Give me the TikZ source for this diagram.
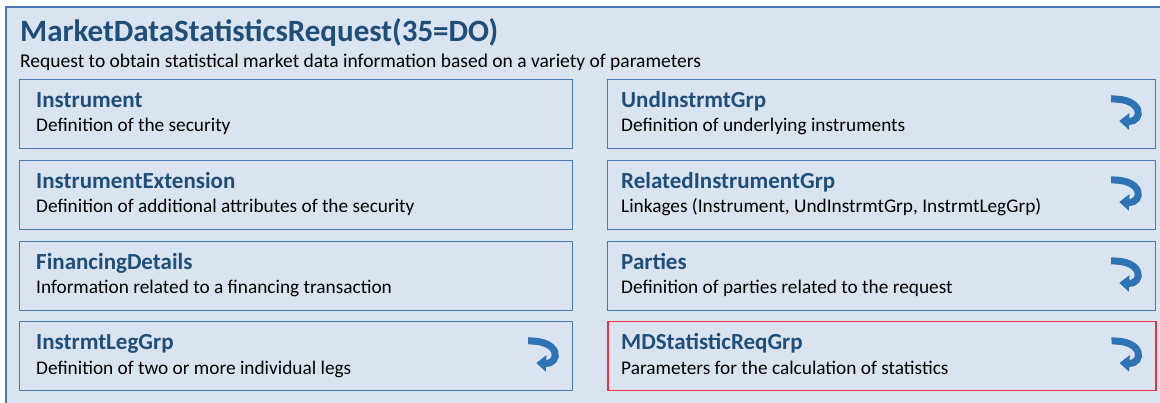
\documentclass[tikz,border=0pt]{standalone}
\usepackage{fontspec}
\setmainfont{Carlito}
\usetikzlibrary{arrows.meta,calc}
\definecolor{bgblue}{HTML}{DAE3F0}
\definecolor{frameblue}{HTML}{4A7AB3}
\definecolor{titleblue}{HTML}{1F4E79}
\definecolor{redframe}{HTML}{F0303C}
\definecolor{arrowblue}{HTML}{2E74B5}
\tikzset{
  grpbox/.style={draw=frameblue, line width=1.2pt, minimum width=553pt, minimum height=69pt, anchor=north west, inner sep=0pt},
  redbox/.style={grpbox, draw=redframe, line width=1.5pt},
  grptitle/.style={anchor=base west, inner sep=0pt, font=\fontsize{23}{27}\selectfont\bfseries, text=titleblue},
  grpdesc/.style={anchor=base west, inner sep=0pt, font=\fontsize{19.3}{23}\selectfont, text=black},
  repeatarrow/.style={draw=arrowblue, line width=7pt, -{Triangle[width=16pt,length=10pt]}}
}
\newcommand{\grp}[7]{% name, x, y, title, desc, style, text offset
  \node[#6] (#1) at (#2,#3) {};
  \node[grptitle] (#1t) at ($(#1.north west)+(#7,29)$) {#4};
  \node[grpdesc] (#1d) at ($(#1.north west)+(#7,53)$) {#5};
}
\newcommand{\rep}[1]{%
  \coordinate (#1a) at ($(#1.north east)+(-45,20)$);
  \coordinate (#1b) at ($(#1.north east)+(-37,42)$);
  \draw[repeatarrow] (#1a) .. controls ($(#1.north east)+(-12,19)$) and ($(#1.north east)+(-13,43)$) .. (#1b);
}
\begin{document}
\begin{tikzpicture}[x=1pt,y=-1pt]
\useasboundingbox (0,0) rectangle (1160,403);
\fill[white] (0,0) rectangle (1160,403);
\fill[bgblue] (6,7) rectangle (1160,403);
\draw[frameblue, line width=1.5pt] (6,403) -- (6,7) -- (1160,7);
\node[anchor=base west, inner sep=0pt, font=\fontsize{31}{36}\selectfont\bfseries, text=titleblue] (title) at (20,42) {MarketDataStatisticsRequest(35=DO)};
\node[anchor=base west, inner sep=0pt, font=\fontsize{19.5}{23}\selectfont] (subtitle) at (20,68) {Request to obtain statistical market data information based on a variety of parameters};
\grp{instr}{19}{79}{Instrument}{Definition of the security}{grpbox}{17}
\grp{instrext}{19}{160}{InstrumentExtension}{Definition of additional attributes of the security}{grpbox}{17}
\grp{fin}{19}{241}{FinancingDetails}{Information related to a financing transaction}{grpbox}{17}
\grp{leg}{19}{321}{InstrmtLegGrp}{Definition of two or more individual legs}{grpbox}{17}
\grp{und}{607}{79}{UndInstrmtGrp}{Definition of underlying instruments}{grpbox,minimum width=548pt}{14}
\grp{rel}{607}{160}{RelatedInstrumentGrp}{Linkages (Instrument, UndInstrmtGrp, InstrmtLegGrp)}{grpbox,minimum width=548pt}{14}
\grp{par}{607}{241}{Parties}{Definition of parties related to the request}{grpbox,minimum width=548pt}{14}
\grp{md}{607}{321}{MDStatisticReqGrp}{Parameters for the calculation of statistics}{redbox,minimum width=548pt}{14}
\rep{leg}
\rep{und}
\rep{rel}
\rep{par}
\rep{md}
\end{tikzpicture}
\end{document}
